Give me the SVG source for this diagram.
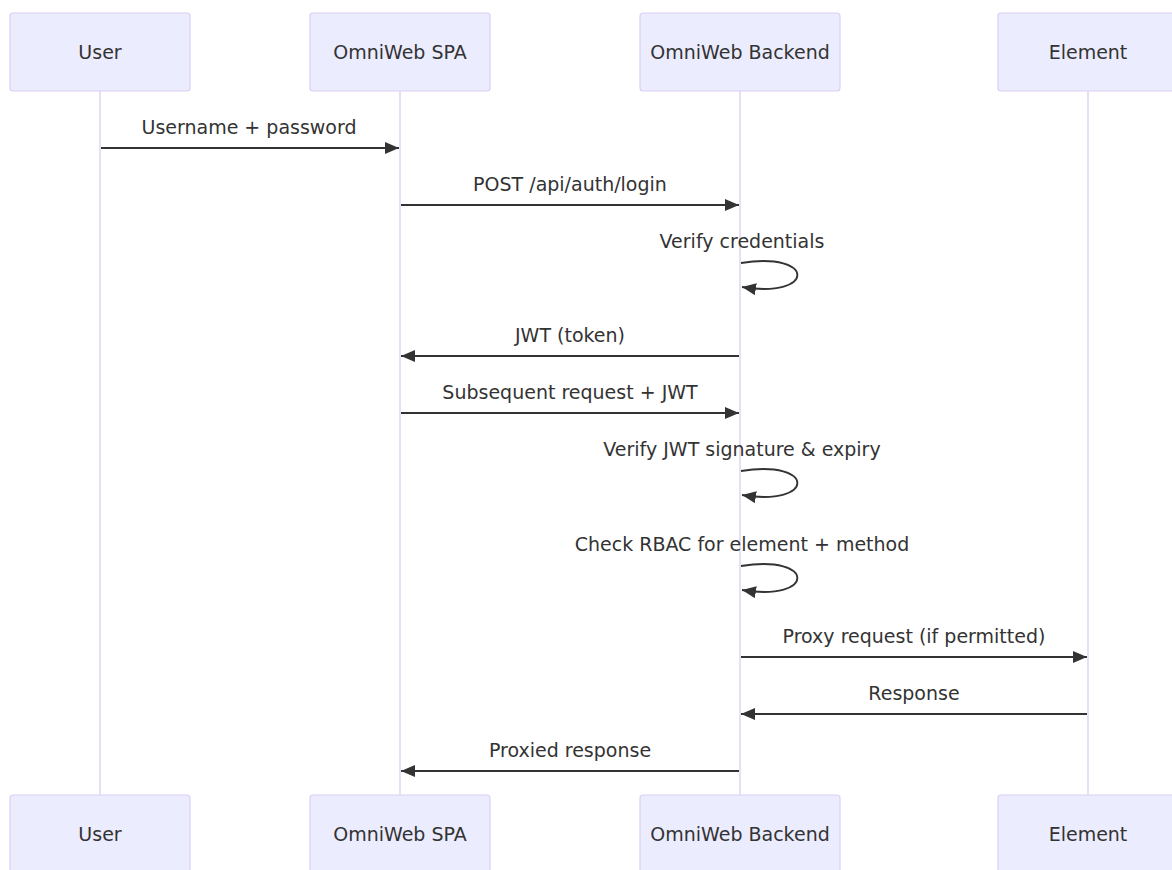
<svg xmlns="http://www.w3.org/2000/svg" width="1172" height="870" viewBox="0 0 1172 870">
  <style>
    .actor { fill: #ECECFF; stroke: #DACEF3; stroke-width: 1.2; }
    .actor-text { font-family: "DejaVu Sans", Verdana, sans-serif; font-size: 19px; fill: #333333; text-anchor: middle; }
    .lifeline { stroke: #DACEF3; stroke-width: 1.3; }
    .msg { stroke: #333333; stroke-width: 1.8; fill: none; }
    .msg-text { font-family: "DejaVu Sans", Verdana, sans-serif; font-size: 19px; fill: #333333; text-anchor: middle; }
  </style>
  <defs>
    <marker id="arrowhead" markerUnits="userSpaceOnUse" markerWidth="14" markerHeight="12" refX="14" refY="6" orient="auto">
      <path d="M0,0 L14,6 L0,12 z" fill="#333333"/>
    </marker>
  </defs>
  <rect width="1172" height="870" fill="#ffffff"/>

  <!-- lifelines -->
  <g id="lifelines">
    <line class="lifeline" x1="100" y1="91" x2="100" y2="795"/>
    <line class="lifeline" x1="400" y1="91" x2="400" y2="795"/>
    <line class="lifeline" x1="740" y1="91" x2="740" y2="795"/>
    <line class="lifeline" x1="1088" y1="91" x2="1088" y2="795"/>
  </g>

  <!-- participants (top and bottom) -->
  <g id="user">
    <rect class="actor" x="10" y="13" width="180" height="78" rx="3"/>
    <text class="actor-text" x="100" y="59">User</text>
    <rect class="actor" x="10" y="795" width="180" height="78" rx="3"/>
    <text class="actor-text" x="100" y="841">User</text>
  </g>
  <g id="spa">
    <rect class="actor" x="310" y="13" width="180" height="78" rx="3"/>
    <text class="actor-text" x="400" y="59">OmniWeb SPA</text>
    <rect class="actor" x="310" y="795" width="180" height="78" rx="3"/>
    <text class="actor-text" x="400" y="841">OmniWeb SPA</text>
  </g>
  <g id="backend">
    <rect class="actor" x="640" y="13" width="200" height="78" rx="3"/>
    <text class="actor-text" x="740" y="59">OmniWeb Backend</text>
    <rect class="actor" x="640" y="795" width="200" height="78" rx="3"/>
    <text class="actor-text" x="740" y="841">OmniWeb Backend</text>
  </g>
  <g id="element">
    <rect class="actor" x="998" y="13" width="180" height="78" rx="3"/>
    <text class="actor-text" x="1088" y="59">Element</text>
    <rect class="actor" x="998" y="795" width="180" height="78" rx="3"/>
    <text class="actor-text" x="1088" y="841">Element</text>
  </g>

  <!-- messages -->
  <g id="connectors">
    <text class="msg-text" x="249" y="134">Username + password</text>
    <line class="msg" x1="101" y1="148" x2="399" y2="148" marker-end="url(#arrowhead)"/>

    <text class="msg-text" x="570" y="191">POST /api/auth/login</text>
    <line class="msg" x1="401" y1="205" x2="739" y2="205" marker-end="url(#arrowhead)"/>

    <text class="msg-text" x="742" y="248">Verify credentials</text>
    <path class="msg" d="M741,263 C816,251 816,299 742,287" marker-end="url(#arrowhead)"/>

    <text class="msg-text" x="570" y="342">JWT (token)</text>
    <line class="msg" x1="739" y1="356" x2="401" y2="356" marker-end="url(#arrowhead)"/>

    <text class="msg-text" x="570" y="399">Subsequent request + JWT</text>
    <line class="msg" x1="401" y1="413" x2="739" y2="413" marker-end="url(#arrowhead)"/>

    <text class="msg-text" x="742" y="456">Verify JWT signature &amp; expiry</text>
    <path class="msg" d="M741,471 C816,459 816,507 742,495" marker-end="url(#arrowhead)"/>

    <text class="msg-text" x="742" y="551">Check RBAC for element + method</text>
    <path class="msg" d="M741,566 C816,554 816,602 742,590" marker-end="url(#arrowhead)"/>

    <text class="msg-text" x="914" y="643">Proxy request (if permitted)</text>
    <line class="msg" x1="741" y1="657" x2="1087" y2="657" marker-end="url(#arrowhead)"/>

    <text class="msg-text" x="914" y="700">Response</text>
    <line class="msg" x1="1087" y1="714" x2="741" y2="714" marker-end="url(#arrowhead)"/>

    <text class="msg-text" x="570" y="757">Proxied response</text>
    <line class="msg" x1="739" y1="771" x2="401" y2="771" marker-end="url(#arrowhead)"/>
  </g>
</svg>
